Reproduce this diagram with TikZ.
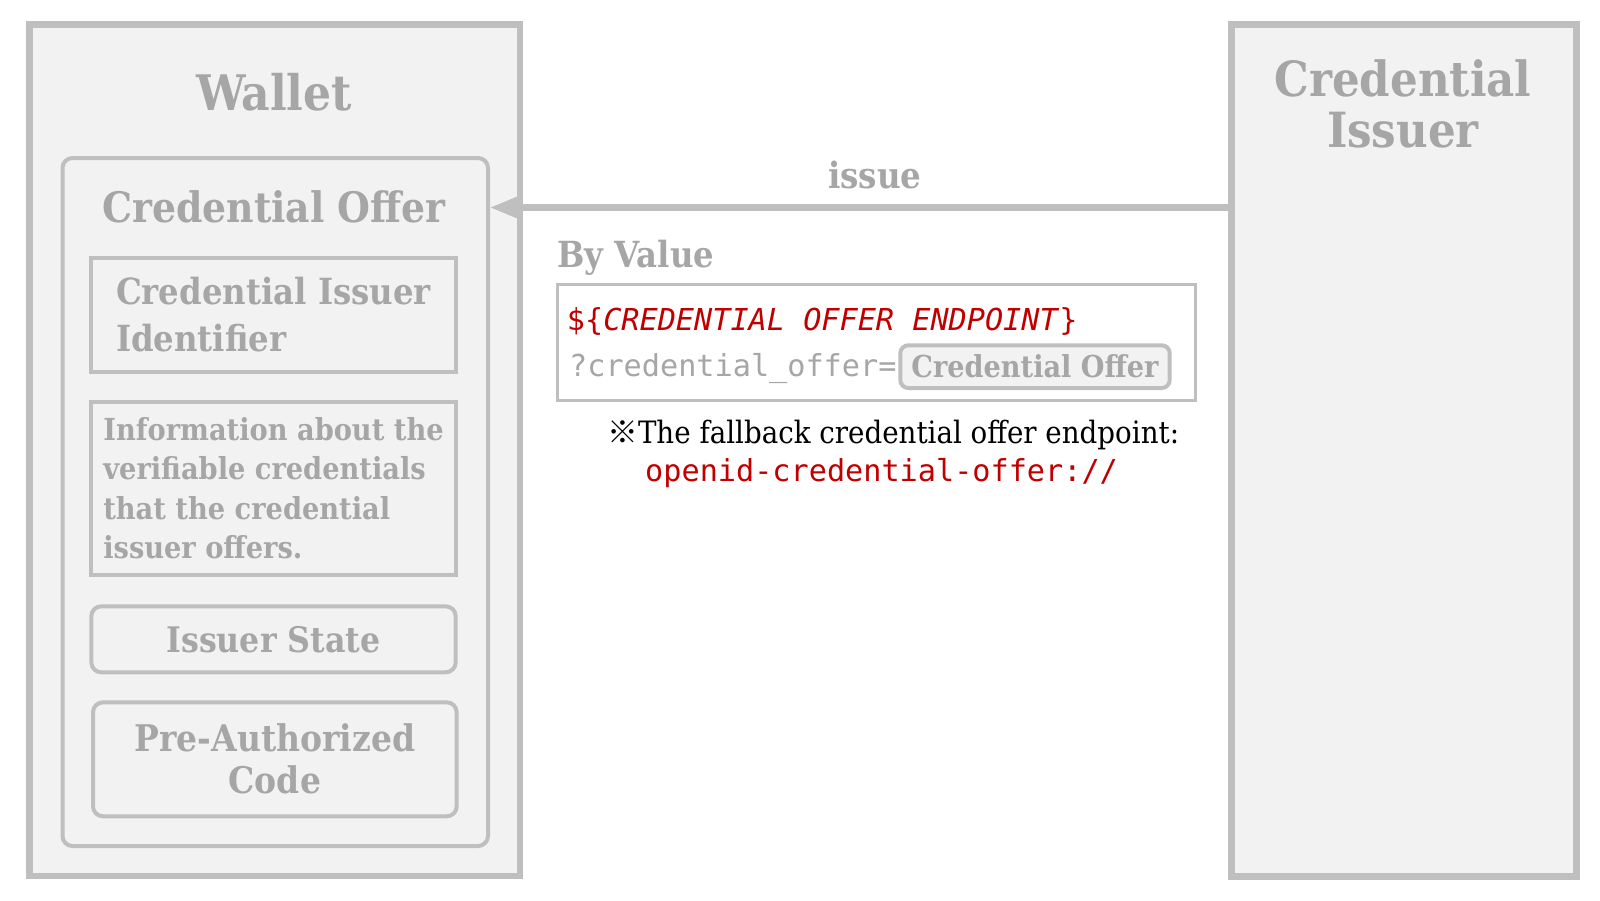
\documentclass[tikz,border=0pt]{standalone}
\usepackage{fontspec}
\setmainfont{DejaVu Serif Condensed}
\setmonofont{DejaVu Sans Mono}
\newfontfamily\marksym{Noto Sans CJK JP}
\usetikzlibrary{positioning, arrows.meta}
\definecolor{boxline}{HTML}{BFBFBF}
\definecolor{boxfill}{HTML}{F2F2F2}
\definecolor{greytext}{HTML}{A6A6A6}
\definecolor{urlred}{HTML}{C00000}
\newcommand{\fs}[2]{\fontsize{#1}{#2}\selectfont}
\tikzset{
  party/.style={draw=boxline, fill=boxfill, line width=6.5pt, inner sep=0pt},
  offerbox/.style={draw=boxline, fill=boxfill, line width=4pt, rounded corners=10pt, inner sep=0pt},
  field/.style={draw=boxline, fill=boxfill, line width=4pt, inner sep=0pt, text=greytext, font=\bfseries},
  roundfield/.style={field, rounded corners=10pt},
  heading/.style={inner sep=0pt, text=greytext, font=\bfseries},
  code/.style={inner sep=0pt, anchor=base west, font=\ttfamily\fs{30.2}{36}},
  flow/.style={draw=boxline, line width=6.3pt, -{Triangle[length=32pt, width=24pt]}}
}

\begin{document}
\begin{tikzpicture}[x=1pt, y=-1pt]
\useasboundingbox (0,0) rectangle (1600,900);
% the two parties
\node[party, minimum width=490.7pt, minimum height=851.6pt] (wallet) at (274.65,450.2) {};
\node[party, minimum width=345pt, minimum height=852pt] (issuer) at (1404,450.5) {};
\node[heading, anchor=base, font=\bfseries\fs{49}{49}] (wallettitle) at (274.2,110) {Wallet};
\node[heading, anchor=base, align=center, font=\bfseries\fs{48.5}{51}] (issuertitle) at (1403,147) {Credential\\Issuer};
% the credential offer and its fields
\node[offerbox, minimum width=425.5pt, minimum height=688pt] (offer) at (275.25,502) {};
\node[heading, anchor=base, font=\bfseries\fs{42}{42}] (offertitle) at (274,222) {Credential Offer};
\node[field, minimum width=364.4pt, minimum height=114pt, align=left, font=\bfseries\fs{36}{47}] (issuerid) at (273.5,315) {Credential Issuer\\Identifier};
\node[field, minimum width=364.4pt, minimum height=172.5pt, align=left, font=\bfseries\fs{30.3}{39.5}] (credinfo) at (273.5,488.25) {Information about the\\verifiable credentials\\that the credential\\issuer offers.};
\node[roundfield, minimum width=364.4pt, minimum height=66pt, font=\bfseries\fs{35.2}{40}] (state) at (273.5,639.3) {Issuer State};
\node[roundfield, minimum width=363.7pt, minimum height=114pt, align=center, font=\bfseries\fs{36.7}{42}] (preauth) at (274.85,759.3) {Pre-Authorized\\Code};
% the issue flow
\coordinate (hook) at (875,207.5);
\draw[flow] (issuer.west |- hook) -- (offer.east |- hook);
\node[heading, anchor=base, font=\bfseries\fs{36.2}{37}] (issuelbl) at (875,188.3) {issue};
% by value
\node[heading, anchor=base west, font=\bfseries\fs{36}{36}] (byvalue) at (557.3,267.7) {By Value};
\node[draw=boxline, fill=white, line width=2.5pt, inner sep=0pt, minimum width=638.2pt, minimum height=116pt] (valuebox) at (876.4,342.5) {};
\node[code, text=urlred] (endpoint) at (566.7,330) {\$\{\textit{CREDENTIAL OFFER ENDPOINT}\}};
\node[code, text=greytext] (query) at (569,376) {?credential\_offer=};
\node[field, rounded corners=8pt, minimum width=269.4pt, minimum height=42.7pt, font=\bfseries\fs{30.2}{32}] (offerref) at (1035,366.65) {Credential Offer};
% the fallback endpoint
\node[inner sep=0pt, anchor=base west, font=\fs{30.8}{36}] (fallback) at (607,443.3) {{\marksym ※}The fallback credential offer endpoint:};
\node[code, text=urlred] (scheme) at (645,481) {openid-credential-offer://};
\end{tikzpicture}
\end{document}
